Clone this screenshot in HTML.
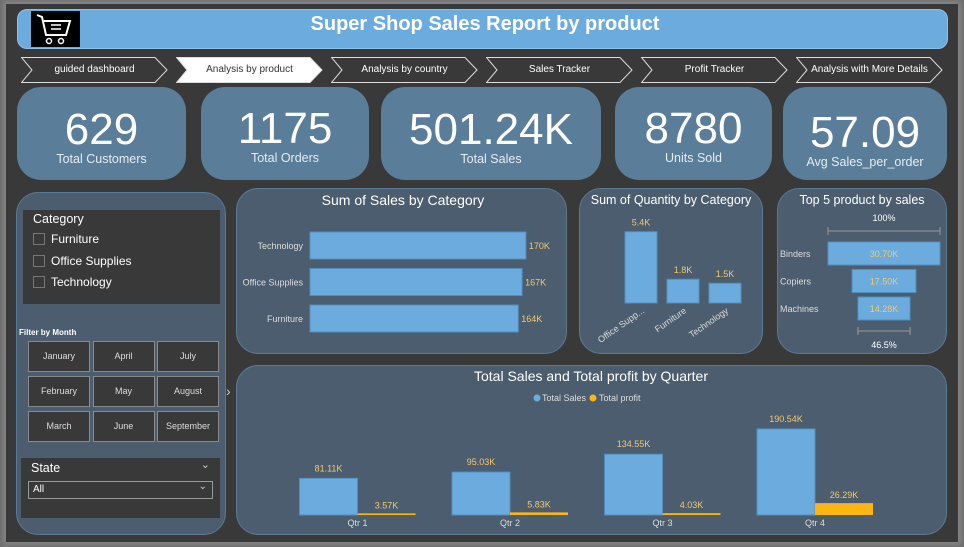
<!DOCTYPE html>
<html><head><meta charset="utf-8"><style>
*{box-sizing:border-box;margin:0;padding:0}
body{width:964px;height:547px;overflow:hidden;background:#6b6b6b;font-family:"Liberation Sans",Arial,sans-serif;position:relative}
.frame{position:absolute;left:6px;top:4px;width:952px;height:538px;background:#393939;box-shadow:0 0 6px 3px #888}
.abs{position:absolute}
.panel{position:absolute;background:#4b5d6e;border:1.5px solid #5a7a96;border-radius:22px}
.kpi{position:absolute;background:#5a7d99;border-radius:24px;color:#fff;text-align:center}
.kpi .v{font-size:44px;line-height:44px;margin-top:21px}
.kpi .l{font-size:12.5px;color:#e6ecf2}
.nav{position:absolute;top:57px;height:26px;width:147px;color:#fff;font-size:10px;line-height:26px;text-align:center}
.nav svg{position:absolute;left:0;top:0}
.nav span{position:relative}
.mb{position:absolute;width:62px;height:31px;border:1.5px solid #8a8a8a;background:#393939;color:#ddd;font-size:9px;text-align:center;line-height:28px}
</style></head><body>
<div class="frame"></div>
<div class="abs" style="left:17px;top:9px;width:931px;height:40px;background:#6cabdd;border-radius:10px;border:1px solid #8fc0e8"></div>
<div class="abs" style="left:31px;top:11px;width:49px;height:36px;background:#000">
<svg width="49" height="36"><path d="M6 4 L11 6 L15 24 L35 24 L39 10 L13 10" fill="none" stroke="#fff" stroke-width="2"/><line x1="20" y1="14" x2="30" y2="14" stroke="#fff" stroke-width="1.5"/><line x1="20" y1="18" x2="30" y2="18" stroke="#fff" stroke-width="1.5"/><circle cx="18" cy="30" r="2.5" fill="none" stroke="#fff" stroke-width="1.5"/><circle cx="30" cy="30" r="2.5" fill="none" stroke="#fff" stroke-width="1.5"/></svg></div>
<div class="abs" style="left:200px;top:13px;width:570px;text-align:center;color:#fff;font-weight:bold;font-size:20px">Super Shop Sales Report by product</div>

<div id="navs"></div>

<div class="kpi" style="left:17px;top:87px;width:169px;height:93px"><div class="v">629</div><div class="l">Total Customers</div></div>
<div class="kpi" style="left:201px;top:87px;width:168px;height:93px"><div class="v" style="margin-top:20px">1175</div><div class="l">Total Orders</div></div>
<div class="kpi" style="left:381px;top:87px;width:220px;height:93px"><div class="v">501.24K</div><div class="l">Total Sales</div></div>
<div class="kpi" style="left:615px;top:87px;width:157px;height:93px"><div class="v" style="margin-top:20px">8780</div><div class="l">Units Sold</div></div>
<div class="kpi" style="left:783px;top:87px;width:164px;height:93px"><div class="v" style="margin-top:24px">57.09</div><div class="l">Avg Sales_per_order</div></div>

<div class="panel" style="left:16px;top:192px;width:210px;height:343px"></div>
<div class="abs" style="left:23px;top:210px;width:197px;height:94px;background:#393939;color:#fff">
<div style="position:absolute;left:10px;top:2px;font-size:12.5px">Category</div>
<div style="position:absolute;left:10px;top:22px;font-size:12px"><span style="display:inline-block;width:12px;height:12px;border:1px solid #777;vertical-align:-2px;margin-right:6px"></span>Furniture</div>
<div style="position:absolute;left:10px;top:44px;font-size:12px"><span style="display:inline-block;width:12px;height:12px;border:1px solid #777;vertical-align:-2px;margin-right:6px"></span>Office Supplies</div>
<div style="position:absolute;left:10px;top:65px;font-size:12px"><span style="display:inline-block;width:12px;height:12px;border:1px solid #777;vertical-align:-2px;margin-right:6px"></span>Technology</div>
</div>
<div class="abs" style="left:19px;top:328px;color:#fff;font-size:8px;font-weight:bold">Filter by Month</div>
<div id="months"></div>
<div class="abs" style="left:21px;top:458px;width:199px;height:60px;background:#393939;color:#fff">
<div style="position:absolute;left:10px;top:3px;font-size:12.5px">State</div>
<div style="position:absolute;right:10px;top:0px;font-size:11px;color:#ccc">&#8964;</div>
<div style="position:absolute;left:7px;top:23px;width:185px;height:18px;border:1px solid #999;font-size:10px;line-height:16px;padding-left:4px">All<span style="position:absolute;right:5px;top:-3px;color:#ccc">&#8964;</span></div>
</div>
<div class="abs" style="left:226px;top:383px;color:#ccc;font-size:14px">&#8250;</div>

<div class="panel" style="left:236px;top:188px;width:331px;height:166px"></div>
<div class="panel" style="left:579px;top:188px;width:184px;height:166px"></div>
<div class="panel" style="left:777px;top:188px;width:170px;height:166px"></div>
<div class="panel" style="left:236px;top:365px;width:711px;height:170px"></div>

<svg class="abs" style="left:0;top:0" width="964" height="547" id="charts">
<text x="403" y="205" fill="#fff" font-size="14" text-anchor="middle">Sum of Sales by Category</text>
<text x="671" y="204" fill="#fff" font-size="12.5" text-anchor="middle">Sum of Quantity by Category</text>
<text x="862" y="204" fill="#fff" font-size="12.5" text-anchor="middle">Top 5 product by sales</text>
<text x="591" y="381" fill="#fff" font-size="14" text-anchor="middle">Total Sales and Total profit by Quarter</text>
<g font-size="9" fill="#ddd">
<circle cx="537" cy="398" r="3.5" fill="#6cabdd"/><text x="542" y="401">Total Sales</text>
<circle cx="593" cy="398" r="3.5" fill="#fbb515"/><text x="599" y="401">Total profit</text></g>
<g id="g1"></g><g id="g2"></g><g id="g3"></g><g id="g4"></g>
</svg>

<script>
const navLabels=["guided dashboard","Analysis by product","Analysis by country","Sales Tracker","Profit Tracker","Analysis with More Details"];
const navHost=document.getElementById('navs');
navLabels.forEach((t,i)=>{
 const d=document.createElement('div');d.className='nav';d.style.left=(21+i*155)+'px';
 
 
 const act=i===1;
 d.innerHTML='<svg width="147" height="26"><polygon points="0.5,0.5 134,0.5 146,13 134,25.5 0.5,25.5 11,13" fill="'+(act?'#fff':'#393939')+'" stroke="#ddd" stroke-width="1"/></svg><span style="color:'+(act?'#333':'#fff')+'">'+t+'</span>';
 navHost.appendChild(d);
});
const months=[["January","April","July"],["February","May","August"],["March","June","September"]];
const mh=document.getElementById('months');
months.forEach((r,ri)=>r.forEach((m,ci)=>{
 const b=document.createElement('div');b.className='mb';b.textContent=m;
 b.style.left=(28+ci*64.5)+'px';b.style.top=(341+ri*35)+'px';
 
 
 mh.appendChild(b);
}));
const NS='http://www.w3.org/2000/svg';
function el(p,tag,a,txt){const e=document.createElementNS(NS,tag);for(const k in a)e.setAttribute(k,a[k]);if(txt!=null)e.textContent=txt;p.appendChild(e);return e;}

const salesCats=["Technology","Office Supplies","Furniture"];
const salesVals=[170,167,164];
const salesLabels=["170K","167K","164K"];
const g1=document.getElementById('g1');
const x1=v=>310+v*1.27;
salesCats.forEach((c,i)=>{
 const y=232+i*36.5;
 const r=el(g1,'rect',{x:310,y:y,width:x1(salesVals[i])-310,height:27,fill:'#6cabdd',stroke:'#4f8fc0'});
 
 
 el(g1,'text',{x:303,y:y+17,'font-size':9,fill:'#ddd','text-anchor':'end'},c);
 el(g1,'text',{x:x1(salesVals[i])+3,y:y+17,'font-size':9,fill:'#f5c96a'},salesLabels[i]);
});

const qtyCats=["Office Supp...","Furniture","Technology"];
const qtyVals=[5.4,1.8,1.5];
const qtyLabels=["5.4K","1.8K","1.5K"];
const g2=document.getElementById('g2');
const y2=v=>303-v*13.2;
qtyCats.forEach((c,i)=>{
 const x=625+i*42;
 const r=el(g2,'rect',{x:x,y:y2(qtyVals[i]),width:32,height:303-y2(qtyVals[i]),fill:'#6cabdd',stroke:'#4f8fc0'});
 
 
 el(g2,'text',{x:x+16,y:y2(qtyVals[i])-6,'font-size':9,fill:'#f5c96a','text-anchor':'middle'},qtyLabels[i]);
 el(g2,'text',{x:x+20,y:312,'font-size':9,fill:'#ddd','text-anchor':'end',transform:'rotate(-35 '+(x+20)+' 312)'},c);
});

const topCats=["Binders","Copiers","Machines"];
const topVals=[30.70,17.50,14.28];
const topLabels=["30.70K","17.50K","14.28K"];
const g3=document.getElementById('g3');
const w3=v=>v*112/30.70;
topCats.forEach((c,i)=>{
 const y=242+i*27.5,w=w3(topVals[i]);
 const r=el(g3,'rect',{x:884-w/2,y:y,width:w,height:23,fill:'#6cabdd',stroke:'#4f8fc0'});
 
 
 el(g3,'text',{x:780,y:y+15,'font-size':9,fill:'#ddd'},c);
 el(g3,'text',{x:884,y:y+15,'font-size':9,fill:'#f5c96a','text-anchor':'middle'},topLabels[i]);
});
el(g3,'text',{x:884,y:221,'font-size':9,fill:'#fff','text-anchor':'middle'},'100%');
el(g3,'path',{d:'M828 227v8M828 231H940M940 227v8',stroke:'#999',fill:'none'});
const lw=w3(topVals[2]);
el(g3,'path',{d:'M'+(884-lw/2)+' 327v8M'+(884-lw/2)+' 331H'+(884+lw/2)+'M'+(884+lw/2)+' 327v8',stroke:'#999',fill:'none'});
el(g3,'text',{x:884,y:348,'font-size':9,fill:'#fff','text-anchor':'middle'},'46.5%');

const quarters=["Qtr 1","Qtr 2","Qtr 3","Qtr 4"];
const qSales=[81.11,95.03,134.55,190.54];
const qProfit=[3.57,5.83,4.03,26.29];
const qSalesLabels=["81.11K","95.03K","134.55K","190.54K"];
const qProfitLabels=["3.57K","5.83K","4.03K","26.29K"];
const g4=document.getElementById('g4');
const y4=v=>515-v*0.452;
quarters.forEach((q,i)=>{
 const cx=357.5+i*152.5;
 let r=el(g4,'rect',{x:cx-58,y:y4(qSales[i]),width:58,height:515-y4(qSales[i]),fill:'#6cabdd',stroke:'#4f8fc0'});
 
 
 r=el(g4,'rect',{x:cx,y:y4(qProfit[i]),width:58,height:Math.max(515-y4(qProfit[i]),1.5),fill:'#fbb515'});
 
 
 el(g4,'text',{x:cx-29,y:y4(qSales[i])-7,'font-size':9,fill:'#f5c96a','text-anchor':'middle'},qSalesLabels[i]);
 el(g4,'text',{x:cx+29,y:y4(qProfit[i])-5,'font-size':9,fill:'#f5c96a','text-anchor':'middle'},qProfitLabels[i]);
 el(g4,'text',{x:cx,y:526,'font-size':9,fill:'#ddd','text-anchor':'middle'},q);
});
</script>
</body></html>
